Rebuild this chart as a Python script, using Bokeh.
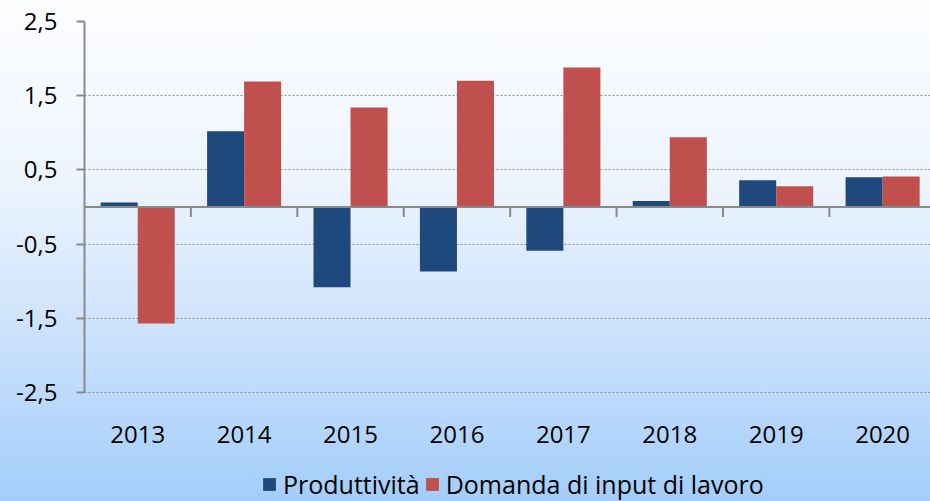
from bokeh.plotting import figure
from bokeh.models import (ColumnDataSource, FixedTicker, Range1d, Span,
                          Legend, LegendItem)
from bokeh.core.properties import value
from bokeh.transform import dodge
from bokeh.embed import file_html
from bokeh.resources import INLINE

years = ["2013", "2014", "2015", "2016", "2017", "2018", "2019", "2020"]
produttivita = [0.06, 1.02, -1.08, -0.87, -0.59, 0.08, 0.36, 0.40]
domanda = [-1.57, 1.69, 1.34, 1.70, 1.88, 0.94, 0.28, 0.41]
y_ticks = [-2.5, -1.5, -0.5, 0.5, 1.5, 2.5]
y_tick_labels = ["-2,5", "-1,5", "-0,5", "0,5", "1,5", "2,5"]
series_names = ["Produttività", "Domanda di input di lavoro"]

BLUE = "#1F497D"
RED = "#C0504D"
GRAY = "#898989"
FONT = "Open Sans"

PX_PER_UNIT = 74.2
centers = [i + 0.5 for i in range(len(years))]
bounds = [i for i in range(1, len(years) + 1)]
tick_len = 10 / PX_PER_UNIT
src = ColumnDataSource(dict(x=centers, p=produttivita, d=domanda))
lab_src = ColumnDataSource(dict(x=centers, y=[y_ticks[0]] * len(years), t=years))
bnd_src = ColumnDataSource(dict(x=bounds, y0=[0] * len(bounds),
                                y1=[-tick_len] * len(bounds)))

# frame extends to the bottom of the canvas; -2.5 sits 109px above it
y_low = y_ticks[0] - 109 / PX_PER_UNIT

p = figure(width=930, height=501, output_backend="svg", toolbar_location=None,
           x_range=Range1d(0, 7.95), y_range=Range1d(y_low, y_ticks[-1]),
           x_axis_location=None,
           min_border_left=84, min_border_top=21, min_border_right=0,
           min_border_bottom=0,
           background_fill_color=None, border_fill_color=None,
           outline_line_color=None,
           styles={"background": "linear-gradient(to bottom, #FCFDFF 0%, #EEF5FE 35%, #D3E6FC 60%, #A3CDFA 100%)"})

for g in p.xgrid:
    g.visible = False
    g.grid_line_color = None
p.ygrid.ticker = FixedTicker(ticks=y_ticks)
p.ygrid.grid_line_color = "#8F8F8F"
p.ygrid.grid_line_dash = "2 2"
p.ygrid.grid_line_width = 1

bw = 0.348
rb = p.vbar(x=dodge("x", -bw / 2), top="p", bottom=0, width=bw, source=src,
            fill_color=BLUE, line_color=None)
rr = p.vbar(x=dodge("x", bw / 2), top="d", bottom=0, width=bw, source=src,
            fill_color=RED, line_color=None)

# zero line and category boundary ticks
p.add_layout(Span(location=0, dimension="width", line_color=GRAY, line_width=2))
p.segment(x0="x", y0="y0", x1="x", y1="y1", source=bnd_src,
          line_color=GRAY, line_width=2)

# year labels
p.text(x="x", y="y", text="t", source=lab_src, y_offset=42,
       text_align="center", text_baseline="middle",
       text_font=value(FONT), text_font_size="24px", text_color="#000000")

# y axis
ya = p.yaxis[0]
ya.ticker = FixedTicker(ticks=y_ticks)
ya.bounds = (y_ticks[0], y_ticks[-1])
ya.major_label_overrides = {t: l for t, l in zip(y_ticks, y_tick_labels)}
ya.axis_line_color = GRAY
ya.axis_line_width = 2
ya.major_tick_line_color = GRAY
ya.major_tick_line_width = 2
ya.major_tick_out = 8
ya.major_tick_in = 0
ya.minor_tick_line_color = None
ya.major_label_standoff = 19
ya.major_label_text_font = FONT
ya.major_label_text_font_size = "24px"
ya.major_label_text_color = "#000000"

legend = Legend(items=[LegendItem(label=series_names[0], renderers=[rb]),
                       LegendItem(label=series_names[1], renderers=[rr])],
                orientation="horizontal", location=(177, 0))
legend.background_fill_alpha = 0
legend.border_line_color = None
legend.padding = 0
legend.margin = 0
legend.spacing = 4
legend.glyph_width = 16
legend.glyph_height = 16
legend.label_standoff = 6
legend.label_text_font = FONT
legend.label_text_font_size = "25px"
legend.label_text_color = "#000000"
legend.label_height = 28
p.add_layout(legend, "center")

open("out.html", "w").write(file_html(p, INLINE))
